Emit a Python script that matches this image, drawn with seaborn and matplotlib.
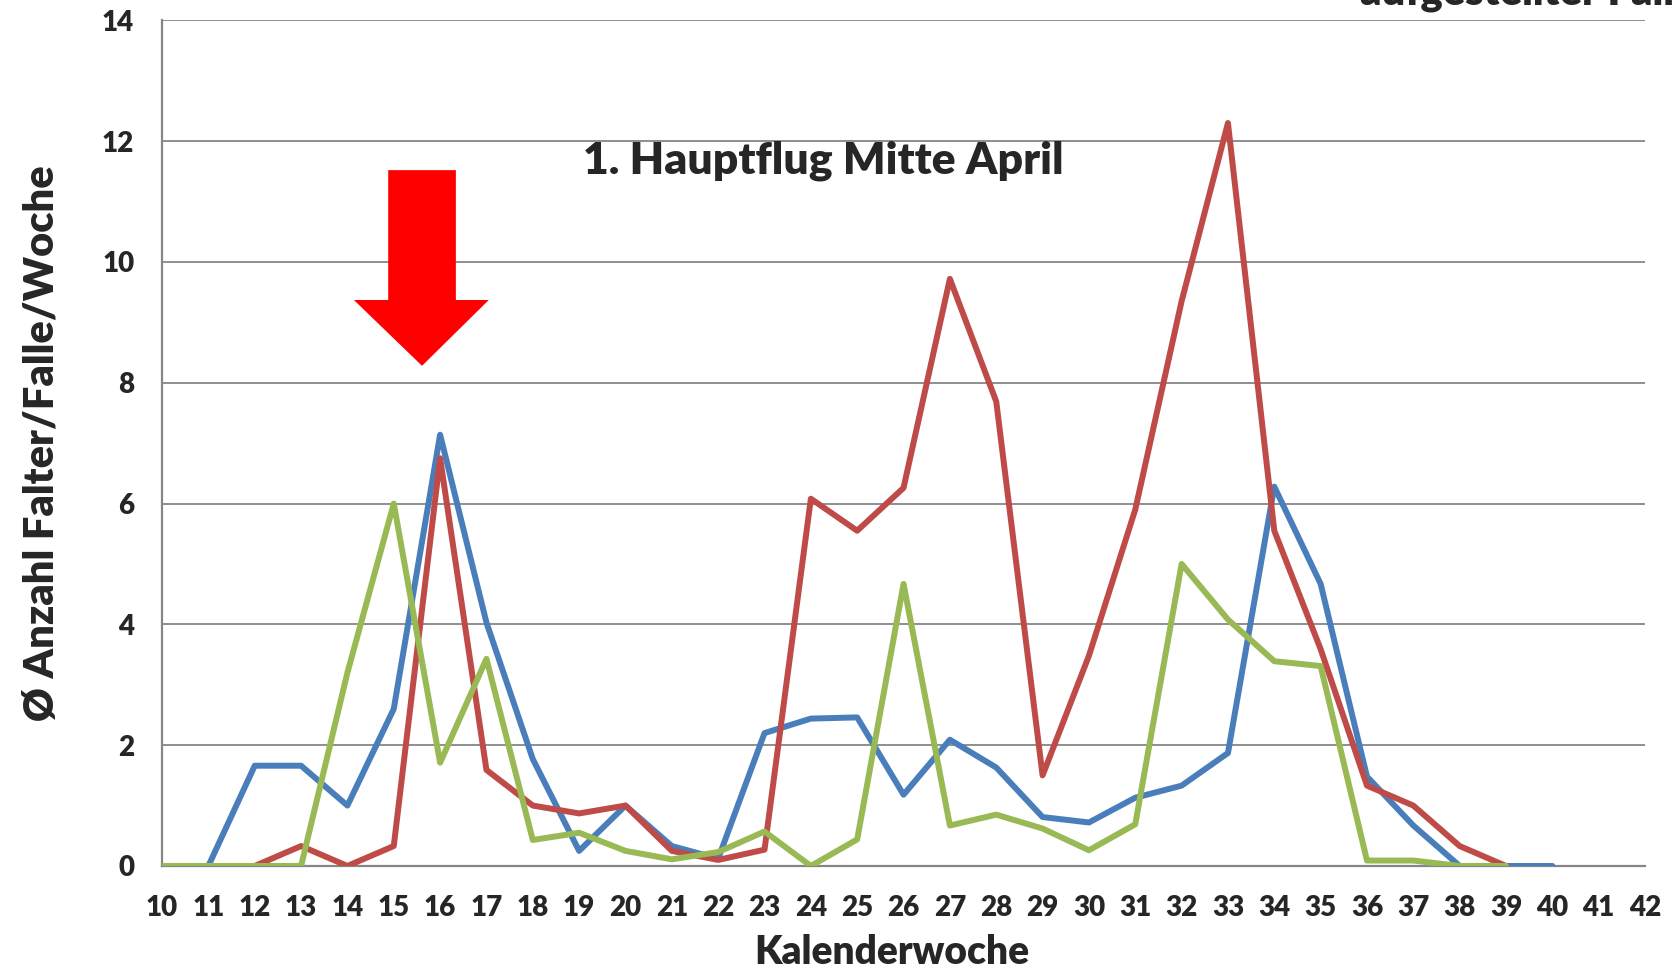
import numpy as np
import pandas as pd
import matplotlib
matplotlib.use("Agg")
import matplotlib.pyplot as plt
from matplotlib.patches import Polygon
import seaborn as sns

# Kalenderwochen und mittlere Fangzahlen je Falle und Woche
weeks_blue = list(range(11, 41))
blue = [0, 1.66, 1.66, 1.0, 2.6, 7.14, 4.03, 1.77, 0.25, 1.0,
        0.33, 0.12, 2.2, 2.44, 2.46, 1.18, 2.09, 1.63, 0.81, 0.72,
        1.13, 1.33, 1.87, 6.28, 4.67, 1.48, 0.67, 0, 0, 0]

weeks_red = list(range(12, 40))
red = [0, 0.33, 0, 0.33, 6.75, 1.59, 1.0, 0.87, 1.0, 0.25,
       0.1, 0.27, 6.08, 5.55, 6.26, 9.72, 7.69, 1.5, 3.48, 5.9,
       9.35, 12.3, 5.55, 3.59, 1.33, 1.0, 0.33, 0]

weeks_green = list(range(10, 40))
green = [0, 0, 0, 0, 3.2, 6.0, 1.71, 3.43, 0.43, 0.55,
         0.25, 0.11, 0.23, 0.57, 0, 0.44, 4.67, 0.67, 0.85, 0.62,
         0.26, 0.69, 5.0, 4.08, 3.39, 3.31, 0.09, 0.09, 0, 0]

series_names = ["Serie 1", "Serie 2", "Serie 3"]
colors = ["#4A7EBB", "#BE4B48", "#98B954"]

x_ticks = list(range(10, 43))
y_ticks = list(range(0, 15, 2))

df = pd.concat([
    pd.DataFrame({"Woche": weeks_blue, "Wert": blue, "Serie": series_names[0]}),
    pd.DataFrame({"Woche": weeks_red, "Wert": red, "Serie": series_names[1]}),
    pd.DataFrame({"Woche": weeks_green, "Wert": green, "Serie": series_names[2]}),
], ignore_index=True)

sns.set_style("white")
plt.rcParams["font.family"] = ["Lato", "DejaVu Sans"]
plt.rcParams["font.weight"] = "bold"

fig = plt.figure(figsize=(16.74, 9.68), dpi=100)
ax = fig.add_axes([0.0968, 0.1054, 0.9827 - 0.0968, 0.979 - 0.1054])

grid_col = "#868686"
for y in y_ticks:
    ax.axhline(y, color=grid_col, lw=1.3, zorder=0)

sns.lineplot(data=df, x="Woche", y="Wert", hue="Serie", hue_order=series_names,
             palette=colors, linewidth=4.3, legend=False, ax=ax,
             solid_joinstyle="round", solid_capstyle="round", zorder=3)

ax.set_xlim(10, 42)
ax.set_ylim(0, 14)
ax.set_xticks(x_ticks)
ax.set_yticks(y_ticks)
ax.tick_params(axis="both", which="major", direction="out", length=7,
               width=1.3, color=grid_col, labelsize=20)
ax.tick_params(axis="y", pad=13)
ax.tick_params(axis="x", pad=14)
for lab in ax.get_xticklabels() + ax.get_yticklabels():
    lab.set_fontweight("heavy")

for side in ["top", "right"]:
    ax.spines[side].set_visible(False)
for side in ["left", "bottom"]:
    ax.spines[side].set_color(grid_col)
    ax.spines[side].set_linewidth(1.6)

ax.set_xlabel("Kalenderwoche", fontsize=28, fontweight="heavy", labelpad=9)
ax.xaxis.label.set_x(0.492)
ax.set_ylabel("Ø Anzahl Falter/Falle/Woche", fontsize=30, fontweight="heavy", labelpad=30)

# Pfeil zum ersten Hauptflug
arrow = Polygon([(14.88, 11.52), (16.34, 11.52), (16.34, 9.37), (17.05, 9.37),
                 (15.61, 8.28), (14.14, 9.37), (14.88, 9.37)],
                closed=True, facecolor="#FF0000", edgecolor="none", zorder=4)
ax.add_patch(arrow)

ax.text(24.26, 11.68, "1. Hauptflug Mitte April", fontsize=32, fontweight="heavy",
        ha="center", va="center", zorder=5)

fig.text(1360 / 1674, 1 - 5 / 968, "aufgestellter Falle", fontsize=30,
         fontweight="heavy", ha="left", va="baseline")

fig.savefig("out.png", dpi=100)
